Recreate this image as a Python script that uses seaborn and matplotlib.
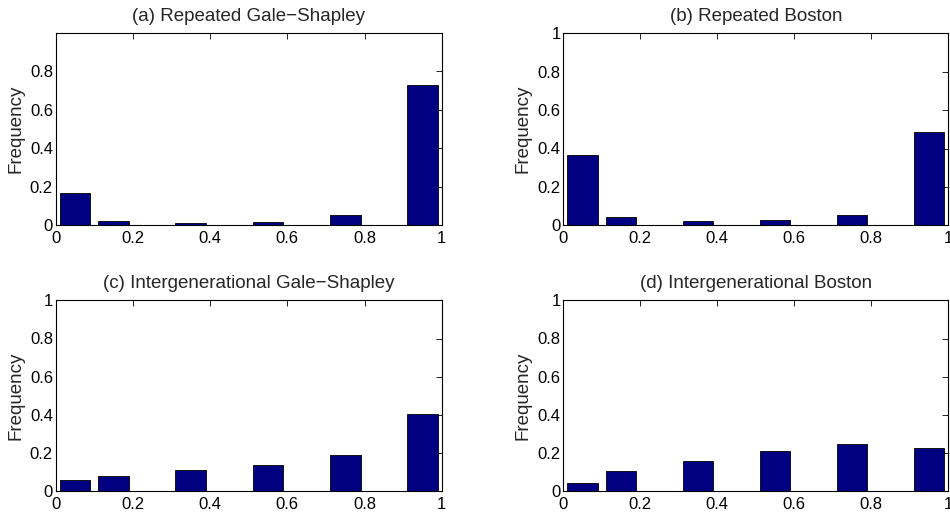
import matplotlib
matplotlib.use("Agg")
import matplotlib.pyplot as plt
import pandas as pd
import seaborn as sns

# bin centres of the 10-bin histograms, and the frequency in each bin
bin_centers = [0.05, 0.15, 0.25, 0.35, 0.45, 0.55, 0.65, 0.75, 0.85, 0.95]
freq_repeated_gs = [0.167, 0.024, 0.0, 0.014, 0.0, 0.017, 0.0, 0.052, 0.0, 0.729]
freq_repeated_boston = [0.365, 0.045, 0.0, 0.024, 0.0, 0.026, 0.0, 0.054, 0.0, 0.484]
freq_intergen_gs = [0.059, 0.082, 0.0, 0.110, 0.0, 0.139, 0.0, 0.190, 0.0, 0.405]
freq_intergen_boston = [0.045, 0.105, 0.0, 0.157, 0.0, 0.209, 0.0, 0.246, 0.0, 0.225]

titles = [
    "(a) Repeated Gale\u2212Shapley",
    "(b) Repeated Boston",
    "(c) Intergenerational Gale\u2212Shapley",
    "(d) Intergenerational Boston",
]
panel_freqs = [freq_repeated_gs, freq_repeated_boston, freq_intergen_gs, freq_intergen_boston]
tick_values = [0, 0.2, 0.4, 0.6, 0.8, 1]

sns.set_style("white")
plt.rcParams["font.family"] = ["Liberation Sans", "DejaVu Sans"]
plt.rcParams["xtick.direction"] = "in"
plt.rcParams["ytick.direction"] = "in"

W, H = 950, 516
fig = plt.figure(figsize=(W / 100, H / 100), dpi=100)

# axes boxes in pixels: left, top, right, bottom
boxes = [
    (55.7, 33.3, 441.7, 225.3),
    (563.3, 33.3, 948.3, 225.3),
    (55.7, 300.3, 441.7, 491.3),
    (563.3, 300.3, 948.3, 491.3),
]

bar_color = "#000080"

for i, (title, freqs) in enumerate(zip(titles, panel_freqs)):
    l, t, r, b = boxes[i]
    ax = fig.add_axes([l / W, 1 - b / H, (r - l) / W, (b - t) / H])
    df = pd.DataFrame({"value": bin_centers, "freq": freqs})
    sns.histplot(
        data=df,
        x="value",
        weights="freq",
        bins=10,
        binrange=(0, 1),
        shrink=0.8,
        color=bar_color,
        edgecolor="black",
        linewidth=0.6,
        alpha=1,
        ax=ax,
    )
    ax.set_xlim(0, 1)
    if i == 0:
        ax.set_ylim(0, 0.995)
        yt = tick_values[:-1]
    else:
        ax.set_ylim(0, 1)
        yt = tick_values
    ax.set_xticks(tick_values)
    ax.set_xticklabels([f"{v:g}" for v in tick_values])
    ax.set_yticks(yt)
    ax.set_yticklabels([f"{v:g}" for v in yt])
    ax.tick_params(
        axis="both", which="both", direction="in", length=4, width=0.6,
        top=True, right=True, labelsize=12, colors="black", pad=2,
    )
    ax.tick_params(axis="x", pad=4)
    for s in ax.spines.values():
        s.set_visible(True)
        s.set_color("black")
        s.set_linewidth(0.8)
    ax.set_xlabel("")
    ax.set_ylabel("Frequency", fontsize=13.5, labelpad=4)
    ax.set_title(title, fontsize=13.5, pad=9)

fig.savefig("out.png", dpi=100)
